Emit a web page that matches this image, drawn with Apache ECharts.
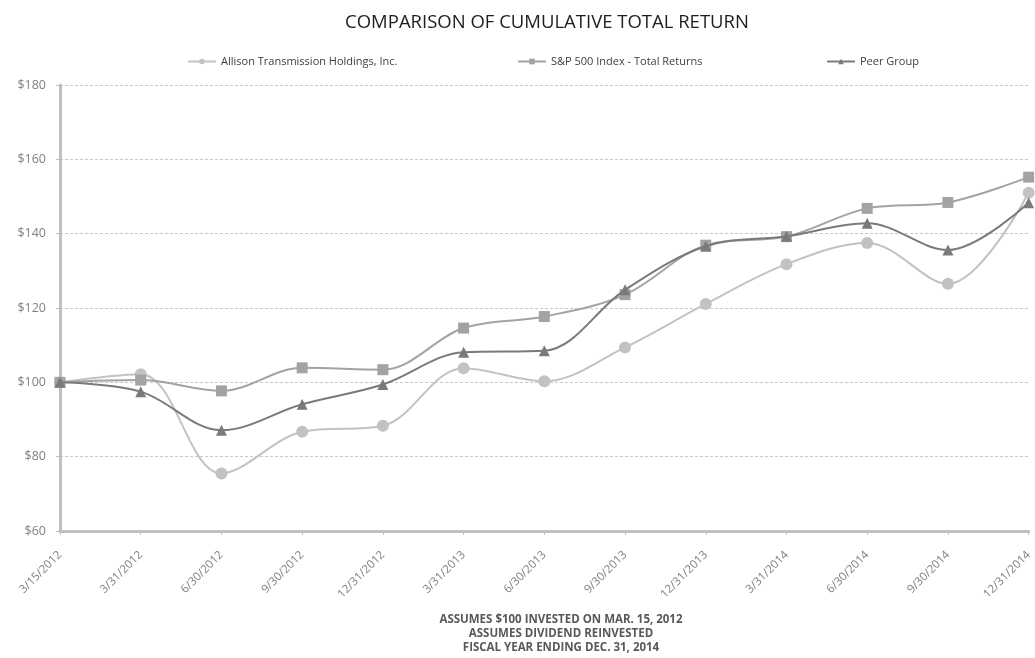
<!DOCTYPE html>
<html>
<head>
<meta charset="utf-8">
<script src="https://cdn.jsdelivr.net/npm/echarts@6/dist/echarts.min.js"></script>
<style>
  html, body { margin: 0; padding: 0; background: #fff; }
  #main { width: 1035px; height: 658px; }
</style>
</head>
<body>
<div id="main"></div>
<script>
// 日期类目
var dates = ['3/15/2012', '3/31/2012', '6/30/2012', '9/30/2012', '12/31/2012', '3/31/2013',
	'6/30/2013', '9/30/2013', '12/31/2013', '3/31/2014', '6/30/2014', '9/30/2014', '12/31/2014'];
// 各系列数值
var allison = [100, 102.2, 75.5, 86.7, 88.3, 103.8, 100.3, 109.4, 121.1, 131.8, 137.5, 126.5, 151];
var sp500 = [100, 100.6, 97.7, 103.9, 103.4, 114.6, 117.7, 123.6, 136.9, 139.2, 146.8, 148.4, 155.2];
var peer = [100, 97.5, 87.1, 94.1, 99.4, 108.1, 108.5, 124.9, 136.6, 139.3, 142.8, 135.6, 148.3];
var notes = ['ASSUMES $100 INVESTED ON MAR. 15, 2012', 'ASSUMES DIVIDEND REINVESTED', 'FISCAL YEAR ENDING DEC. 31, 2014'];

var myChart = echarts.init(document.getElementById('main'));
var legendText = { fontFamily: 'Open Sans', fontSize: 11, color: '#404040' };

myChart.setOption({
	backgroundColor: '#fff',
	animation: false,
	title: [{
		text: 'COMPARISON OF CUMULATIVE TOTAL RETURN',
		left: 542,
		top: 8,
		textAlign: 'center',
		textStyle: { fontFamily: 'Open Sans', fontSize: 18.5, fontWeight: 'normal', color: '#1e1e1e' }
	}, {
		text: notes.join('\n'),
		left: 556,
		top: 608,
		textAlign: 'center',
		textStyle: { fontFamily: 'Open Sans', fontSize: 11.5, fontWeight: 'bold', color: '#595959', lineHeight: 14, align: 'center' }
	}],
	legend: [{
		data: ['Allison Transmission Holdings, Inc.'],
		left: 182, top: 51, itemWidth: 28, itemHeight: 7, textStyle: legendText
	}, {
		data: ['S&P 500 Index - Total Returns'],
		left: 512, top: 51, itemWidth: 28, itemHeight: 7, textStyle: legendText
	}, {
		data: ['Peer Group'],
		left: 821, top: 51, itemWidth: 28, itemHeight: 7, textStyle: legendText
	}],
	grid: { left: 60, right: -4, top: 85, bottom: 127, containLabel: false },
	xAxis: {
		type: 'category',
		boundaryGap: false,
		data: dates,
		axisLine: { lineStyle: { color: '#bfbfbf', width: 3 } },
		axisTick: { show: true, length: 4, lineStyle: { color: '#bfbfbf' } },
		axisLabel: { rotate: 45, interval: 0, fontFamily: 'Open Sans', fontSize: 11.5, color: '#7f7f7f', margin: 22 }
	},
	yAxis: {
		type: 'value',
		min: 60,
		max: 180,
		interval: 20,
		axisLine: { show: true, lineStyle: { color: '#bfbfbf', width: 3 } },
		axisTick: { show: true, length: 4, lineStyle: { color: '#bfbfbf' } },
		axisLabel: { formatter: '${value}', fontFamily: 'Open Sans', fontSize: 12.5, color: '#808088', margin: 14 },
		splitLine: { show: true, lineStyle: { color: '#c8c8c8', type: [3, 2], width: 1 } }
	},
	series: [{
		name: 'Allison Transmission Holdings, Inc.',
		type: 'line',
		smooth: 0.35,
		data: allison,
		symbol: 'circle',
		symbolSize: 12,
		color: '#c2c2c2',
		lineStyle: { width: 2, color: '#c2c2c2' },
		itemStyle: { color: '#c2c2c2' },
		z: 2
	}, {
		name: 'S&P 500 Index - Total Returns',
		type: 'line',
		smooth: 0.35,
		data: sp500,
		symbol: 'rect',
		symbolSize: 11,
		color: '#a3a3a3',
		lineStyle: { width: 2, color: '#a3a3a3' },
		itemStyle: { color: '#a3a3a3' },
		z: 3
	}, {
		name: 'Peer Group',
		type: 'line',
		smooth: 0.35,
		data: peer,
		symbol: 'triangle',
		symbolSize: 11,
		color: '#7a7a7a',
		lineStyle: { width: 2, color: '#7a7a7a' },
		itemStyle: { color: '#7a7a7a' },
		z: 4
	}]
});
</script>
</body>
</html>
